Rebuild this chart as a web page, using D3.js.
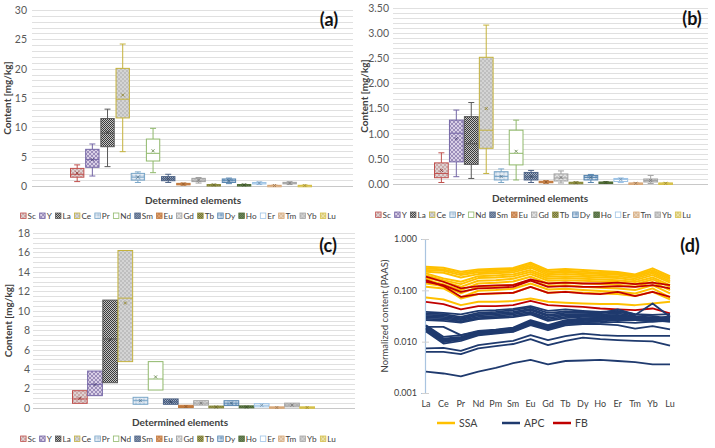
<!DOCTYPE html>
<head>
<meta charset="utf-8">
<title>REE content</title>
<script src="https://d3js.org/d3.v7.min.js"></script>
<style>
body { margin: 0; background: #fff; }
svg { font-family: Lato, "Open Sans", sans-serif; }
</style>
</head>
<body>
<div id="container"></div>
<script>

// ---- data ----
const elements = ["Sc","Y","La","Ce","Pr","Nd","Sm","Eu","Gd","Tb","Dy","Ho","Er","Tm","Yb","Lu"];

// panel (a)
const aMin  = [0.75, 1.7, 3.3, 5.85, 0.6, 2.27, 0.6, 0.15, 0.5, 0.08, 0.4, 0.08, 0.25, 0.02, 0.25, 0.02];
const aQ1   = [1.5, 3.19, 6.7, 11.6, 1.0, 4.26, 0.9, 0.22, 0.75, 0.12, 0.6, 0.12, 0.38, 0.05, 0.38, 0.05];
const aMed  = [2.0, 4.5, 9.0, 14.8, 1.5, 5.57, 1.2, 0.32, 1.0, 0.18, 0.9, 0.18, 0.5, 0.08, 0.5, 0.08];
const aQ3   = [3.0, 6.25, 11.5, 20.05, 2.15, 8.0, 1.6, 0.45, 1.3, 0.25, 1.2, 0.25, 0.6, 0.12, 0.62, 0.12];
const aMax  = [3.6, 7.16, 13.1, 24.2, 2.4, 9.83, 2.0, 0.5, 1.45, 0.3, 1.35, 0.3, 0.7, 0.15, 0.72, 0.15];
const aMean = [2.2, 4.5, 9.2, 15.5, 1.5, 6.0, 1.25, 0.33, 1.0, 0.18, 0.9, 0.18, 0.5, 0.08, 0.5, 0.08];

// panel (b)
const bMin  = [0.03, 0.145, 0.11, 0.21, 0.03, 0.08, 0.03, 0.015, 0.02, 0.01, 0.03, 0.01, 0.03, 0.004, 0.01, 0.004];
const bQ1   = [0.125, 0.44, 0.39, 0.71, 0.08, 0.38, 0.08, 0.025, 0.06, 0.015, 0.08, 0.015, 0.05, 0.008, 0.04, 0.008];
const bMed  = [0.21, 1.01, 0.8, 1.07, 0.15, 0.61, 0.14, 0.04, 0.12, 0.025, 0.13, 0.03, 0.09, 0.014, 0.07, 0.014];
const bQ3   = [0.42, 1.27, 1.34, 2.52, 0.245, 1.07, 0.23, 0.055, 0.2, 0.035, 0.17, 0.04, 0.11, 0.02, 0.1, 0.02];
const bMax  = [0.62, 1.47, 1.62, 3.16, 0.3, 1.27, 0.27, 0.065, 0.26, 0.04, 0.19, 0.045, 0.12, 0.025, 0.17, 0.025];
const bMean = [0.27, 0.9, 0.85, 1.5, 0.15, 0.65, 0.15, 0.04, 0.13, 0.025, 0.13, 0.03, 0.09, 0.014, 0.07, 0.014];

// panel (c)
const cQ1   = [0.48, 1.27, 2.6, 4.77, 0.38, 1.85, 0.38, 0.05, 0.3, 0.02, 0.25, 0.02, 0.12, 0.0, 0.12, 0.0];
const cMed  = [0.93, 2.43, 7.1, 11.3, 0.75, 2.98, 0.63, 0.15, 0.5, 0.1, 0.5, 0.1, 0.28, 0.05, 0.3, 0.05];
const cQ3   = [1.78, 3.8, 11.1, 16.2, 1.1, 4.77, 0.93, 0.28, 0.75, 0.2, 0.75, 0.22, 0.45, 0.12, 0.5, 0.12];
const cMean = [1.0, 2.4, 7.0, 10.8, 0.75, 3.2, 0.63, 0.15, 0.5, 0.1, 0.5, 0.1, 0.28, 0.05, 0.3, 0.05];

// panel (d) PAAS normalized patterns
const reeLabels = ["La","Ce","Pr","Nd","Pm","Sm","Eu","Gd","Tb","Dy","Ho","Er","Tm","Yb","Lu"];
const ssaLines = [
  [0.288,0.276,0.230,0.256,0.264,0.272,0.345,0.248,0.260,0.248,0.237,0.227,0.204,0.268,0.189],
  [0.268,0.256,0.214,0.241,0.248,0.256,0.320,0.230,0.241,0.230,0.220,0.214,0.195,0.248,0.176],
  [0.248,0.241,0.198,0.224,0.230,0.241,0.297,0.214,0.224,0.214,0.207,0.201,0.184,0.230,0.163],
  [0.230,0.220,0.178,0.207,0.214,0.224,0.276,0.198,0.207,0.198,0.192,0.187,0.171,0.214,0.151],
  [0.214,0.171,0.147,0.189,0.195,0.204,0.248,0.184,0.189,0.184,0.178,0.173,0.158,0.198,0.141],
  [0.198,0.158,0.132,0.173,0.178,0.187,0.227,0.168,0.173,0.168,0.163,0.158,0.145,0.178,0.126],
  [0.178,0.147,0.117,0.154,0.158,0.168,0.207,0.154,0.158,0.154,0.149,0.145,0.132,0.163,0.117],
  [0.158,0.132,0.101,0.136,0.141,0.149,0.184,0.136,0.141,0.136,0.132,0.128,0.117,0.145,0.101],
  [0.136,0.121,0.087,0.117,0.121,0.128,0.158,0.121,0.125,0.117,0.112,0.109,0.101,0.126,0.087],
  [0.117,0.109,0.0727,0.098,0.101,0.107,0.136,0.104,0.107,0.101,0.0967,0.0937,0.087,0.109,0.0727],
  [0.171,0.117,0.0695,0.0845,0.087,0.0896,0.117,0.0896,0.0937,0.0896,0.087,0.0845,0.0774,0.0937,0.0665],
  [0.0727,0.0665,0.0515,0.0598,0.0598,0.0617,0.0695,0.0598,0.0572,0.0555,0.0539,0.0539,0.0515,0.0555,0.0598]
];
const fbLines = [
  [0.0598,0.0539,0.0424,0.0493,0.0493,0.0515,0.0626,0.0515,0.0493,0.0478,0.0443,0.0424,0.0411,0.0443,0.0354],
  [0.158,0.121,0.0749,0.0845,0.087,0.0896,0.117,0.0896,0.0937,0.087,0.0845,0.0937,0.0774,0.0937,0.0749],
  [0.147,0.126,0.0937,0.109,0.112,0.117,0.154,0.117,0.121,0.117,0.117,0.121,0.117,0.126,0.109],
  [0.184,0.147,0.109,0.121,0.125,0.126,0.163,0.136,0.141,0.136,0.136,0.141,0.132,0.141,0.126]
];
const apcLines = [
  [0.0382,0.0365,0.0339,0.0399,0.0411,0.0437,0.0493,0.0399,0.0424,0.0399,0.0382,0.0399,0.0344,0.0334,0.0344],
  [0.0354,0.0344,0.0305,0.0365,0.0382,0.0411,0.0464,0.0365,0.0387,0.0382,0.0365,0.0382,0.0329,0.0555,0.0305],
  [0.0334,0.0324,0.0288,0.0344,0.0360,0.0382,0.0437,0.0334,0.0365,0.0365,0.0354,0.0424,0.0339,0.0315,0.0283],
  [0.0315,0.0305,0.0275,0.0324,0.0339,0.0360,0.0411,0.0315,0.0339,0.0344,0.0339,0.0354,0.0315,0.0296,0.0271],
  [0.0296,0.0288,0.0262,0.0305,0.0319,0.0339,0.0382,0.0292,0.0324,0.0329,0.0324,0.0334,0.0305,0.0283,0.0262],
  [0.0279,0.0271,0.0247,0.0288,0.0301,0.0319,0.0360,0.0271,0.0305,0.0315,0.0310,0.0319,0.0296,0.0271,0.0251],
  [0.0262,0.0255,0.0236,0.0275,0.0288,0.0301,0.0339,0.0255,0.0288,0.0305,0.0305,0.0310,0.0292,0.0262,0.0243],
  [0.0194,0.0194,0.0134,0.0155,0.0167,0.0180,0.0243,0.0201,0.0243,0.0271,0.0296,0.0305,0.0296,0.0279,0.0315],
  [0.0210,0.0124,0.0134,0.0162,0.0172,0.0188,0.0262,0.0210,0.0262,0.0283,0.0292,0.0301,0.0296,0.0279,0.0305],
  [0.0201,0.0115,0.0124,0.0152,0.0167,0.0182,0.0251,0.0201,0.0255,0.0275,0.0283,0.0292,0.0292,0.0271,0.0292],
  [0.0188,0.0110,0.0120,0.0148,0.0157,0.0172,0.0239,0.0194,0.0243,0.0262,0.0271,0.0283,0.0283,0.0262,0.0279],
  [0.0177,0.0104,0.0115,0.0144,0.0152,0.0167,0.0226,0.0185,0.0232,0.0251,0.0262,0.0275,0.0275,0.0255,0.0271],
  [0.0167,0.0098,0.0110,0.0137,0.0148,0.0159,0.0219,0.0177,0.0219,0.0239,0.0247,0.0262,0.0262,0.0247,0.0262],
  [0.0157,0.0092,0.0104,0.0132,0.0144,0.0155,0.0210,0.0167,0.0207,0.0219,0.0219,0.0210,0.0180,0.0201,0.0174],
  [0.0182,0.0107,0.0113,0.0140,0.0155,0.0167,0.0232,0.0188,0.0226,0.0226,0.0232,0.0243,0.0232,0.0247,0.0255],
  [0.0074,0.0076,0.0066,0.0086,0.0095,0.0104,0.0134,0.0107,0.0128,0.0144,0.0134,0.0130,0.0130,0.0130,0.0130],
  [0.0063,0.0063,0.0057,0.0074,0.0082,0.0090,0.0112,0.0086,0.0104,0.0120,0.0112,0.0107,0.0104,0.0101,0.0084],
  [0.0026,0.0024,0.0021,0.0026,0.0031,0.0038,0.0044,0.0036,0.0042,0.0043,0.0044,0.0042,0.0040,0.0036,0.0036]
];
const groupNames = ["SSA","APC","FB"];

// ---- styles ----
const strokeCol = ["#c0504d","#7466a6","#595959","#c4b23c","#7aa6c8","#8fb86a","#4d6387","#c0783c",
                   "#a0a0a0","#8a8a3a","#5886b0","#4f6b35","#9dc3e6","#d8a878","#a5a5a5","#d6c04a"];
const patType  = ["dots","cross","checker","dots","grid","none","checker","dots",
                  "dots","checker","grid","checker","none","dots","dots","dots"];
const patBg    = ["#ddd2d2","#d9d0e6","#c4c4c4","#d4d4d4","#b8cce0","#ffffff","#a6b2c4","#dca070",
                  "#e2e2e2","#b0b070","#86a8ca","#8aa072","#ffffff","#ead4bc","#d2d2d2","#ebe2a8"];
const patFg    = ["#b06060","#8070a8","#3a3a3a","#9a9a9a","#ffffff","#ffffff","#44587a","#a85a28",
                  "#a0a0a0","#66662c","#ffffff","#3a5630","#ffffff","#c09468","#9a9a9a","#c0aa38"];
const groupCol = {SSA: "#ffc000", APC: "#1f3a6e", FB: "#c00000"};

const svg = d3.select("#container").append("svg")
  .attr("width", 715).attr("height", 448);

const defs = svg.append("defs");
elements.forEach((el, i) => {
  const t = patType[i], c = patFg[i];
  const sz = t === "checker" ? 2 : 4;
  const p = defs.append("pattern").attr("id", "pat-" + el)
    .attr("patternUnits", "userSpaceOnUse").attr("width", sz).attr("height", sz);
  p.append("rect").attr("width", sz).attr("height", sz).attr("fill", patBg[i]);
  if (t === "dots") {
    p.append("circle").attr("cx", 1).attr("cy", 1).attr("r", 0.7).attr("fill", c);
    p.append("circle").attr("cx", 3).attr("cy", 3).attr("r", 0.7).attr("fill", c);
  } else if (t === "checker") {
    p.append("rect").attr("width", 1).attr("height", 1).attr("fill", c);
    p.append("rect").attr("x", 1).attr("y", 1).attr("width", 1).attr("height", 1).attr("fill", c);
  } else if (t === "cross") {
    p.append("path").attr("d", "M0,0L4,4M4,0L0,4").attr("stroke", c).attr("stroke-width", 0.7);
  } else if (t === "grid") {
    p.append("path").attr("d", "M0,2H4M2,0V4").attr("stroke", c).attr("stroke-width", 0.8);
  }
});

// ---- box panels ----
function boxPanel(cfg) {
  const g = svg.append("g");
  const y = d3.scaleLinear().domain([0, cfg.yMax]).range([cfg.yBottom, cfg.yTop]);
  const x = d3.scaleBand().domain(elements).range(cfg.band).paddingInner(cfg.pad);

  // gridlines
  g.append("g").selectAll("line")
    .data(d3.range(0, cfg.yMax + cfg.gridStep / 2, cfg.gridStep))
    .join("line")
    .attr("x1", cfg.x0).attr("x2", cfg.x1)
    .attr("y1", d => Math.round(y(d)) + 0.5).attr("y2", d => Math.round(y(d)) + 0.5)
    .attr("stroke", (d, i) => i === 0 ? "#c8c8c8" : "#e0e0e0").attr("stroke-width", 1);

  // y axis labels
  const ax = d3.axisLeft(y).tickValues(d3.range(0, cfg.yMax + cfg.tickStep / 2, cfg.tickStep))
    .tickFormat(d3.format(cfg.fmt)).tickSize(0).tickPadding(0);
  g.append("g").attr("transform", `translate(${cfg.tickX},0)`).call(ax)
    .call(a => a.select(".domain").remove())
    .call(a => a.selectAll("text").attr("fill", "#595959").attr("font-size", 10.5)
      .attr("font-family", "Lato, sans-serif"));

  const st = cfg.stats;
  const boxes = g.append("g").selectAll("g").data(elements).join("g");
  if (st.min) {
    boxes.append("line")
      .attr("x1", d => x(d) + x.bandwidth() / 2).attr("x2", d => x(d) + x.bandwidth() / 2)
      .attr("y1", (d, i) => y(st.max[i])).attr("y2", (d, i) => y(st.min[i]))
      .attr("stroke", (d, i) => strokeCol[i]).attr("stroke-width", 1);
    [st.min, st.max].forEach(arr => boxes.append("line")
      .attr("x1", d => x(d) + x.bandwidth() / 2 - 3).attr("x2", d => x(d) + x.bandwidth() / 2 + 3)
      .attr("y1", (d, i) => y(arr[i])).attr("y2", (d, i) => y(arr[i]))
      .attr("stroke", (d, i) => strokeCol[i]).attr("stroke-width", 1));
  }
  boxes.append("rect")
    .attr("x", d => x(d)).attr("width", x.bandwidth())
    .attr("y", (d, i) => y(st.q3[i]))
    .attr("height", (d, i) => Math.max(1.5, y(st.q1[i]) - y(st.q3[i])))
    .attr("fill", d => `url(#pat-${d})`)
    .attr("stroke", (d, i) => strokeCol[i]).attr("stroke-width", 1);
  boxes.append("line")
    .attr("x1", d => x(d)).attr("x2", d => x(d) + x.bandwidth())
    .attr("y1", (d, i) => y(st.med[i])).attr("y2", (d, i) => y(st.med[i]))
    .attr("stroke", (d, i) => strokeCol[i]).attr("stroke-width", 1);
  boxes.append("path")
    .attr("transform", (d, i) => `translate(${x(d) + x.bandwidth() / 2},${y(st.mean[i])})`)
    .attr("d", "M-1.5,-1.5L1.5,1.5M-1.5,1.5L1.5,-1.5")
    .attr("stroke", (d, i) => d3.color(strokeCol[i]).darker(0.8)).attr("stroke-width", 0.9);

  // titles
  g.append("text").attr("transform", `translate(${cfg.yTitleX},${(cfg.yTop + cfg.yBottom) / 2}) rotate(-90)`)
    .attr("text-anchor", "middle").attr("font-size", 10).attr("font-weight", "bold")
    .attr("fill", "#404040").text("Content [mg/kg]");
  g.append("text").attr("x", cfg.xTitleX).attr("y", cfg.xTitleY)
    .attr("text-anchor", "middle").attr("font-size", 10).attr("font-weight", "bold")
    .attr("fill", "#404040").text("Determined elements");
  g.append("text").attr("x", cfg.labelX).attr("y", cfg.labelY)
    .attr("text-anchor", "middle").attr("font-size", 18).attr("font-weight", "bold")
    .attr("fill", "#111").text(cfg.label);

  // legend
  const lg = g.append("g");
  const gap = 3.2;
  let cx = 0;
  elements.forEach((el, i) => {
    const it = lg.append("g").attr("transform", `translate(${cx},0)`);
    it.append("rect").attr("x", 0.5).attr("y", -6).attr("width", 5.5).attr("height", 5.5)
      .attr("fill", `url(#pat-${el})`).attr("stroke", strokeCol[i]).attr("stroke-width", 0.8);
    const t = it.append("text").attr("x", 7.5).attr("y", 0).attr("font-size", 8.2)
      .attr("fill", "#404040").text(el);
    cx += 7.5 + t.node().getComputedTextLength() + gap;
  });
  lg.attr("transform", `translate(${cfg.legendCx - (cx - gap) / 2},${cfg.legendY})`);
}

boxPanel({
  x0: 32, x1: 353, yTop: 10, yBottom: 186, yMax: 30, gridStep: 1, tickStep: 5, fmt: "d",
  tickX: 27, band: [70.5, 311.5], pad: 0.12,
  stats: {min: aMin, q1: aQ1, med: aMed, q3: aQ3, max: aMax, mean: aMean},
  yTitleX: 11, xTitleX: 193, xTitleY: 204, label: "(a)", labelX: 329, labelY: 26,
  legendCx: 178, legendY: 219
});
boxPanel({
  x0: 393, x1: 708, yTop: 8, yBottom: 184, yMax: 3.5, gridStep: 0.1, tickStep: 0.5, fmt: ".2f",
  tickX: 389, band: [434.5, 672.5], pad: 0.08,
  stats: {min: bMin, q1: bQ1, med: bMed, q3: bQ3, max: bMax, mean: bMean},
  yTitleX: 368, xTitleX: 540, xTitleY: 202, label: "(b)", labelX: 692, labelY: 25,
  legendCx: 533, legendY: 218
});
boxPanel({
  x0: 33, x1: 355, yTop: 233, yBottom: 408, yMax: 18, gridStep: 0.5, tickStep: 2, fmt: "d",
  tickX: 30, band: [72.5, 314.5], pad: 0.03,
  stats: {q1: cQ1, med: cMed, q3: cQ3, mean: cMean},
  yTitleX: 12, xTitleX: 180, xTitleY: 426, label: "(c)", labelX: 328, labelY: 252,
  legendCx: 178, legendY: 442
});

// ---- panel (d) ----
const gd = svg.append("g");
const xd = d3.scalePoint().domain(reeLabels).range([426, 670]);
const yd = d3.scaleLog().domain([0.001, 1]).range([393, 239]);

gd.append("g").attr("transform", "translate(425,0)")
  .call(d3.axisLeft(yd).tickValues([0.001, 0.01, 0.1, 1]).tickFormat(d3.format(".3f"))
    .tickSize(4).tickPadding(4))
  .call(a => a.select(".domain").attr("stroke", "#a9c4e0").attr("stroke-width", 1.2))
  .call(a => a.selectAll(".tick line").attr("stroke", "#d0d0d0").attr("x2", 4).attr("x1", -3))
  .call(a => a.selectAll("text").attr("fill", "#404040").attr("font-size", 9)
    .attr("font-family", "Lato, sans-serif"));

gd.append("g").selectAll("text").data(reeLabels).join("text")
  .attr("x", d => xd(d)).attr("y", 407).attr("text-anchor", "middle")
  .attr("font-size", 9).attr("fill", "#404040").text(d => d);

gd.append("text").attr("transform", "translate(388,316) rotate(-90)")
  .attr("text-anchor", "middle").attr("font-size", 9.5).attr("fill", "#404040")
  .text("Normalized content (PAAS)");

const lineD = d3.line().x((d, i) => xd(reeLabels[i])).y(d => yd(d));
[["SSA", ssaLines], ["FB", fbLines], ["APC", apcLines]].forEach(([name, rows]) => {
  gd.append("g").selectAll("path").data(rows).join("path")
    .attr("d", lineD).attr("fill", "none")
    .attr("stroke", groupCol[name]).attr("stroke-width", name === "SSA" ? 2 : 1.8)
    .attr("stroke-linejoin", "round");
});

gd.append("text").attr("x", 690).attr("y", 252).attr("text-anchor", "middle")
  .attr("font-size", 18).attr("font-weight", "bold").attr("fill", "#111").text("(d)");

const legX = {SSA: 437, APC: 502, FB: 553};
groupNames.forEach(n => {
  gd.append("line").attr("x1", legX[n]).attr("x2", legX[n] + 18)
    .attr("y1", 423).attr("y2", 423).attr("stroke", groupCol[n]).attr("stroke-width", 2.5);
  gd.append("text").attr("x", legX[n] + 22).attr("y", 427).attr("font-size", 10.5)
    .attr("fill", "#404040").text(n);
});

</script>
</body>
